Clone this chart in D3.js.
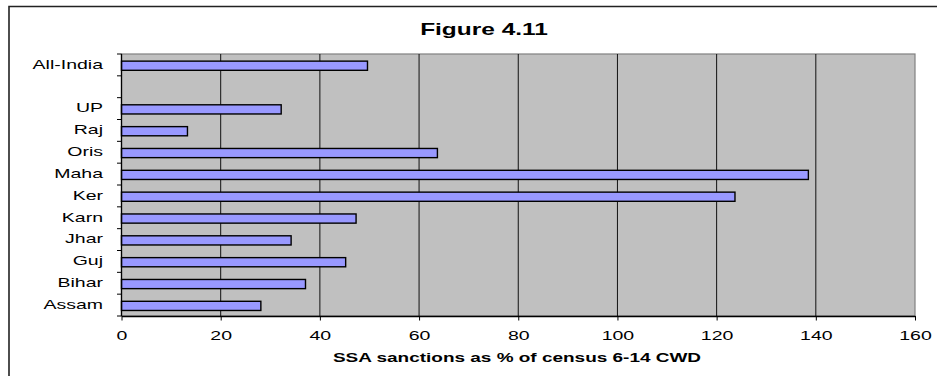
<!DOCTYPE html>
<html>
<head>
<meta charset="utf-8">
<script src="https://cdn.jsdelivr.net/npm/d3@7"></script>
<style>
  html, body { margin: 0; padding: 0; background: #fff; overflow: hidden; }
  svg { display: block; font-family: "Liberation Sans", Arial, sans-serif; }
</style>
</head>
<body>
<svg id="chart" width="937" height="376"></svg>
<script>
// Categories listed top to bottom; the blank entry leaves a gap row under All-India
const categories = ["All-India", "", "UP", "Raj", "Oris", "Maha", "Ker", "Karn", "Jhar", "Guj", "Bihar", "Assam"];
const values = [49.6, null, 32.2, 13.3, 63.7, 138.5, 123.7, 47.3, 34.2, 45.2, 37.1, 28.1];
const xTicks = [0, 20, 40, 60, 80, 100, 120, 140, 160];
const chartTitle = "Figure 4.11";
const xTitle = "SSA sanctions as % of census 6-14 CWD";

const svg = d3.select("#chart");
const plot = { left: 121.5, right: 915, top: 54, bottom: 316 };
const stretch = 1.5; // wide, horizontally scaled lettering

const x = d3.scaleLinear().domain([0, 160]).range([plot.left, plot.right]);
const y = d3.scaleBand().domain(categories).range([plot.top, plot.bottom]).padding(0);
const barH = y.step() * 0.42;

// outer frame (left and top edges visible)
svg.append("path")
  .attr("d", `M9,376 V6.5 H937`)
  .attr("fill", "none").attr("stroke", "#222").attr("stroke-width", 1.6);

// plot background
svg.append("rect")
  .attr("x", plot.left).attr("y", plot.top)
  .attr("width", plot.right - plot.left).attr("height", plot.bottom - plot.top)
  .attr("fill", "#C0C0C0").attr("stroke", "#808080").attr("stroke-width", 1.2);

// vertical gridlines
svg.append("g").selectAll("line")
  .data(xTicks.filter(d => d > 0 && d < 160))
  .join("line")
  .attr("x1", d => x(d)).attr("x2", d => x(d))
  .attr("y1", plot.top).attr("y2", plot.bottom)
  .attr("stroke", "#111").attr("stroke-width", 1);

// bars
const rows = categories.map((c, i) => ({ c, v: values[i] })).filter(d => d.v != null);
svg.append("g").selectAll("rect")
  .data(rows)
  .join("rect")
  .attr("x", x(0))
  .attr("y", d => y(d.c) + (y.step() - barH) / 2 + 0.8)
  .attr("width", d => x(d.v) - x(0))
  .attr("height", barH)
  .attr("fill", "#9999FF")
  .attr("stroke", "#000").attr("stroke-width", 1.4);

// x axis
const xAxis = svg.append("g")
  .attr("transform", `translate(0,${plot.bottom})`)
  .call(d3.axisBottom(x).tickValues(xTicks).tickSize(4.5).tickSizeOuter(0).tickFormat(d3.format("d")));
xAxis.select(".domain").attr("stroke", "#000").attr("stroke-width", 1.3);
xAxis.selectAll(".tick line").attr("stroke", "#000");
xAxis.selectAll(".tick text")
  .attr("y", null).attr("dy", null)
  .attr("transform", `translate(0,23.5) scale(${stretch},1)`)
  .attr("font-size", 13).attr("fill", "#000")
  .attr("font-family", "Liberation Sans, Arial, sans-serif");

// y axis: labels centred on rows, ticks on row boundaries
const yAxis = svg.append("g")
  .attr("transform", `translate(${plot.left},0)`)
  .call(d3.axisLeft(y).tickSize(0).tickPadding(0));
yAxis.select(".domain").remove();
yAxis.selectAll(".tick text")
  .attr("x", null).attr("dy", null)
  .attr("transform", `translate(-18.5,3.8) scale(${stretch},1)`)
  .attr("font-size", 13).attr("fill", "#000")
  .attr("font-family", "Liberation Sans, Arial, sans-serif");

const bounds = categories.map(c => y(c)).concat([y(categories[categories.length - 1]) + y.step()]);
svg.append("g").selectAll("line")
  .data(bounds)
  .join("line")
  .attr("x1", plot.left - 4.5).attr("x2", plot.left)
  .attr("y1", d => d).attr("y2", d => d)
  .attr("stroke", "#000").attr("stroke-width", 1);
svg.append("line")
  .attr("x1", plot.left).attr("x2", plot.left)
  .attr("y1", plot.top).attr("y2", plot.bottom)
  .attr("stroke", "#000").attr("stroke-width", 1.3);

// titles
svg.append("text")
  .attr("transform", `translate(484,35) scale(1.53,1)`)
  .attr("text-anchor", "middle")
  .attr("font-size", 16).attr("font-weight", "bold").attr("fill", "#000")
  .text(chartTitle);

svg.append("text")
  .attr("transform", `translate(517,361.5) scale(1.46,1)`)
  .attr("text-anchor", "middle")
  .attr("font-size", 13).attr("font-weight", "bold").attr("fill", "#000")
  .text(xTitle);
</script>
</body>
</html>
